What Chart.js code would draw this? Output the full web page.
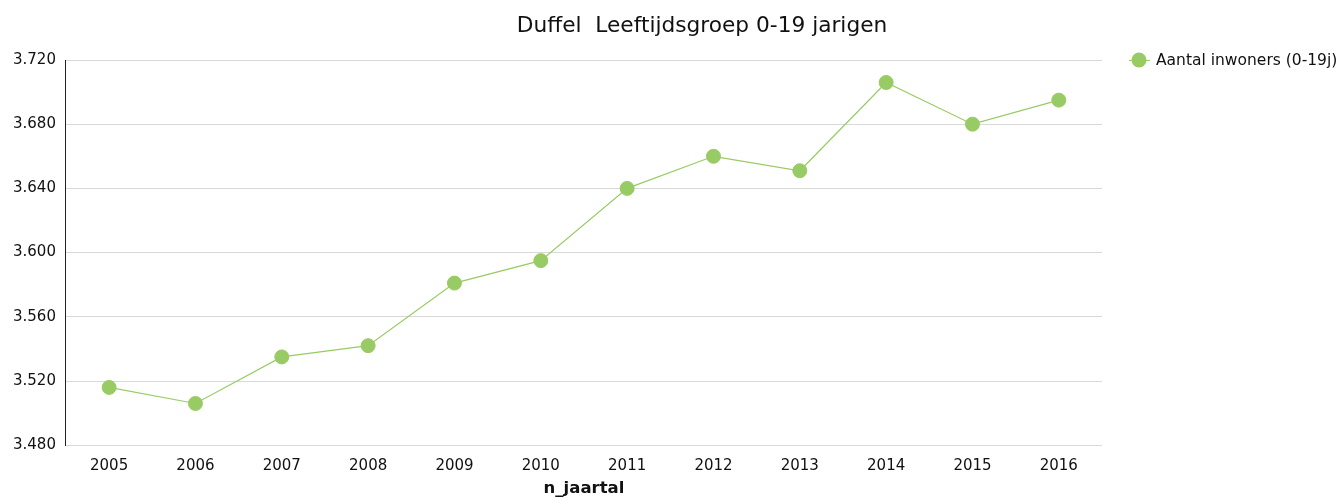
<!DOCTYPE html>
<html>
<head>
<meta charset="utf-8">
<script src="https://cdn.jsdelivr.net/npm/chart.js@4/dist/chart.umd.min.js"></script>
<style>
  html, body { margin: 0; padding: 0; background: #fff; }
  #wrap { width: 1342px; height: 498px; }
</style>
</head>
<body>
<div id="wrap"><canvas id="lineChart"></canvas></div>
<script>
const years = ["2005", "2006", "2007", "2008", "2009", "2010", "2011", "2012", "2013", "2014", "2015", "2016"];
const inwoners = [3516, 3506, 3535, 3542, 3581, 3595, 3640, 3660, 3651, 3706, 3680, 3695];
const yTicks = [3480, 3520, 3560, 3600, 3640, 3680, 3720];
const chartTitle = "Duffel  Leeftijdsgroep 0-19 jarigen";
const seriesLabel = "Aantal inwoners (0-19j)";
const xTitle = "n_jaartal";

const green = "#99cb64";
const fontName = "'DejaVu Sans', Verdana, sans-serif";

// dutch thousands separator: 3720 -> 3.720
function fmt(v) {
    const s = String(Math.round(v));
    return s.length > 3 ? s.slice(0, s.length - 3) + "." + s.slice(-3) : s;
}

// title + legend drawn by hand so they sit where the original has them
const extrasPlugin = {
    id: "extras",
    afterDraw(chart) {
        const ctx = chart.ctx;
        const area = chart.chartArea;
        ctx.save();
        ctx.font = "21.7px " + fontName;
        ctx.fillStyle = "#111";
        ctx.textAlign = "center";
        ctx.textBaseline = "alphabetic";
        ctx.fillText(chartTitle, chart.width / 2 + 31, 32);

        // legend: line with dot, then label
        const ds = chart.data.datasets[0];
        const lx = area.right + 27;
        const ly = area.top;
        ctx.strokeStyle = ds.borderColor;
        ctx.lineWidth = 1;
        ctx.beginPath();
        ctx.moveTo(lx, ly + 0.5);
        ctx.lineTo(lx + 21, ly + 0.5);
        ctx.stroke();
        ctx.fillStyle = ds.pointBackgroundColor;
        ctx.beginPath();
        ctx.arc(lx + 10, ly, 7.5, 0, Math.PI * 2);
        ctx.fill();
        ctx.fillStyle = "#111";
        ctx.font = "15.5px " + fontName;
        ctx.textAlign = "left";
        ctx.textBaseline = "middle";
        ctx.fillText(ds.label, lx + 27, ly + 1);
        ctx.restore();
    }
};

const ctx = document.getElementById("lineChart").getContext("2d");
new Chart(ctx, {
    type: "line",
    data: {
        labels: years,
        datasets: [{
            label: seriesLabel,
            data: inwoners,
            borderColor: green,
            borderWidth: 1.2,
            backgroundColor: green,
            pointBackgroundColor: green,
            pointBorderColor: green,
            pointRadius: 7,
            pointBorderWidth: 1,
            tension: 0
        }]
    },
    options: {
        responsive: true,
        maintainAspectRatio: false,
        animation: false,
        layout: { padding: { top: 60, left: 3, right: 240, bottom: 2 } },
        plugins: {
            legend: { display: false },
            title: { display: false },
            tooltip: { enabled: false }
        },
        scales: {
            x: {
                offset: true,
                grid: { display: false, drawTicks: false },
                border: { display: false },
                ticks: { color: "#111", font: { family: fontName, size: 15 }, padding: 12 },
                title: {
                    display: true,
                    text: xTitle,
                    color: "#111",
                    font: { family: fontName, size: 16.5, weight: "bold" },
                    padding: { top: -8, bottom: -3 }
                }
            },
            y: {
                min: yTicks[0],
                max: yTicks[yTicks.length - 1],
                afterBuildTicks(scale) {
                    scale.ticks = yTicks.map(v => ({ value: v }));
                },
                grid: { color: "#d9d9d9", drawTicks: false },
                border: { display: true, color: "#222", width: 1 },
                ticks: {
                    color: "#111",
                    font: { family: fontName, size: 15 },
                    padding: 10,
                    callback: v => fmt(v)
                }
            }
        }
    },
    plugins: [extrasPlugin]
});
</script>
</body>
</html>
